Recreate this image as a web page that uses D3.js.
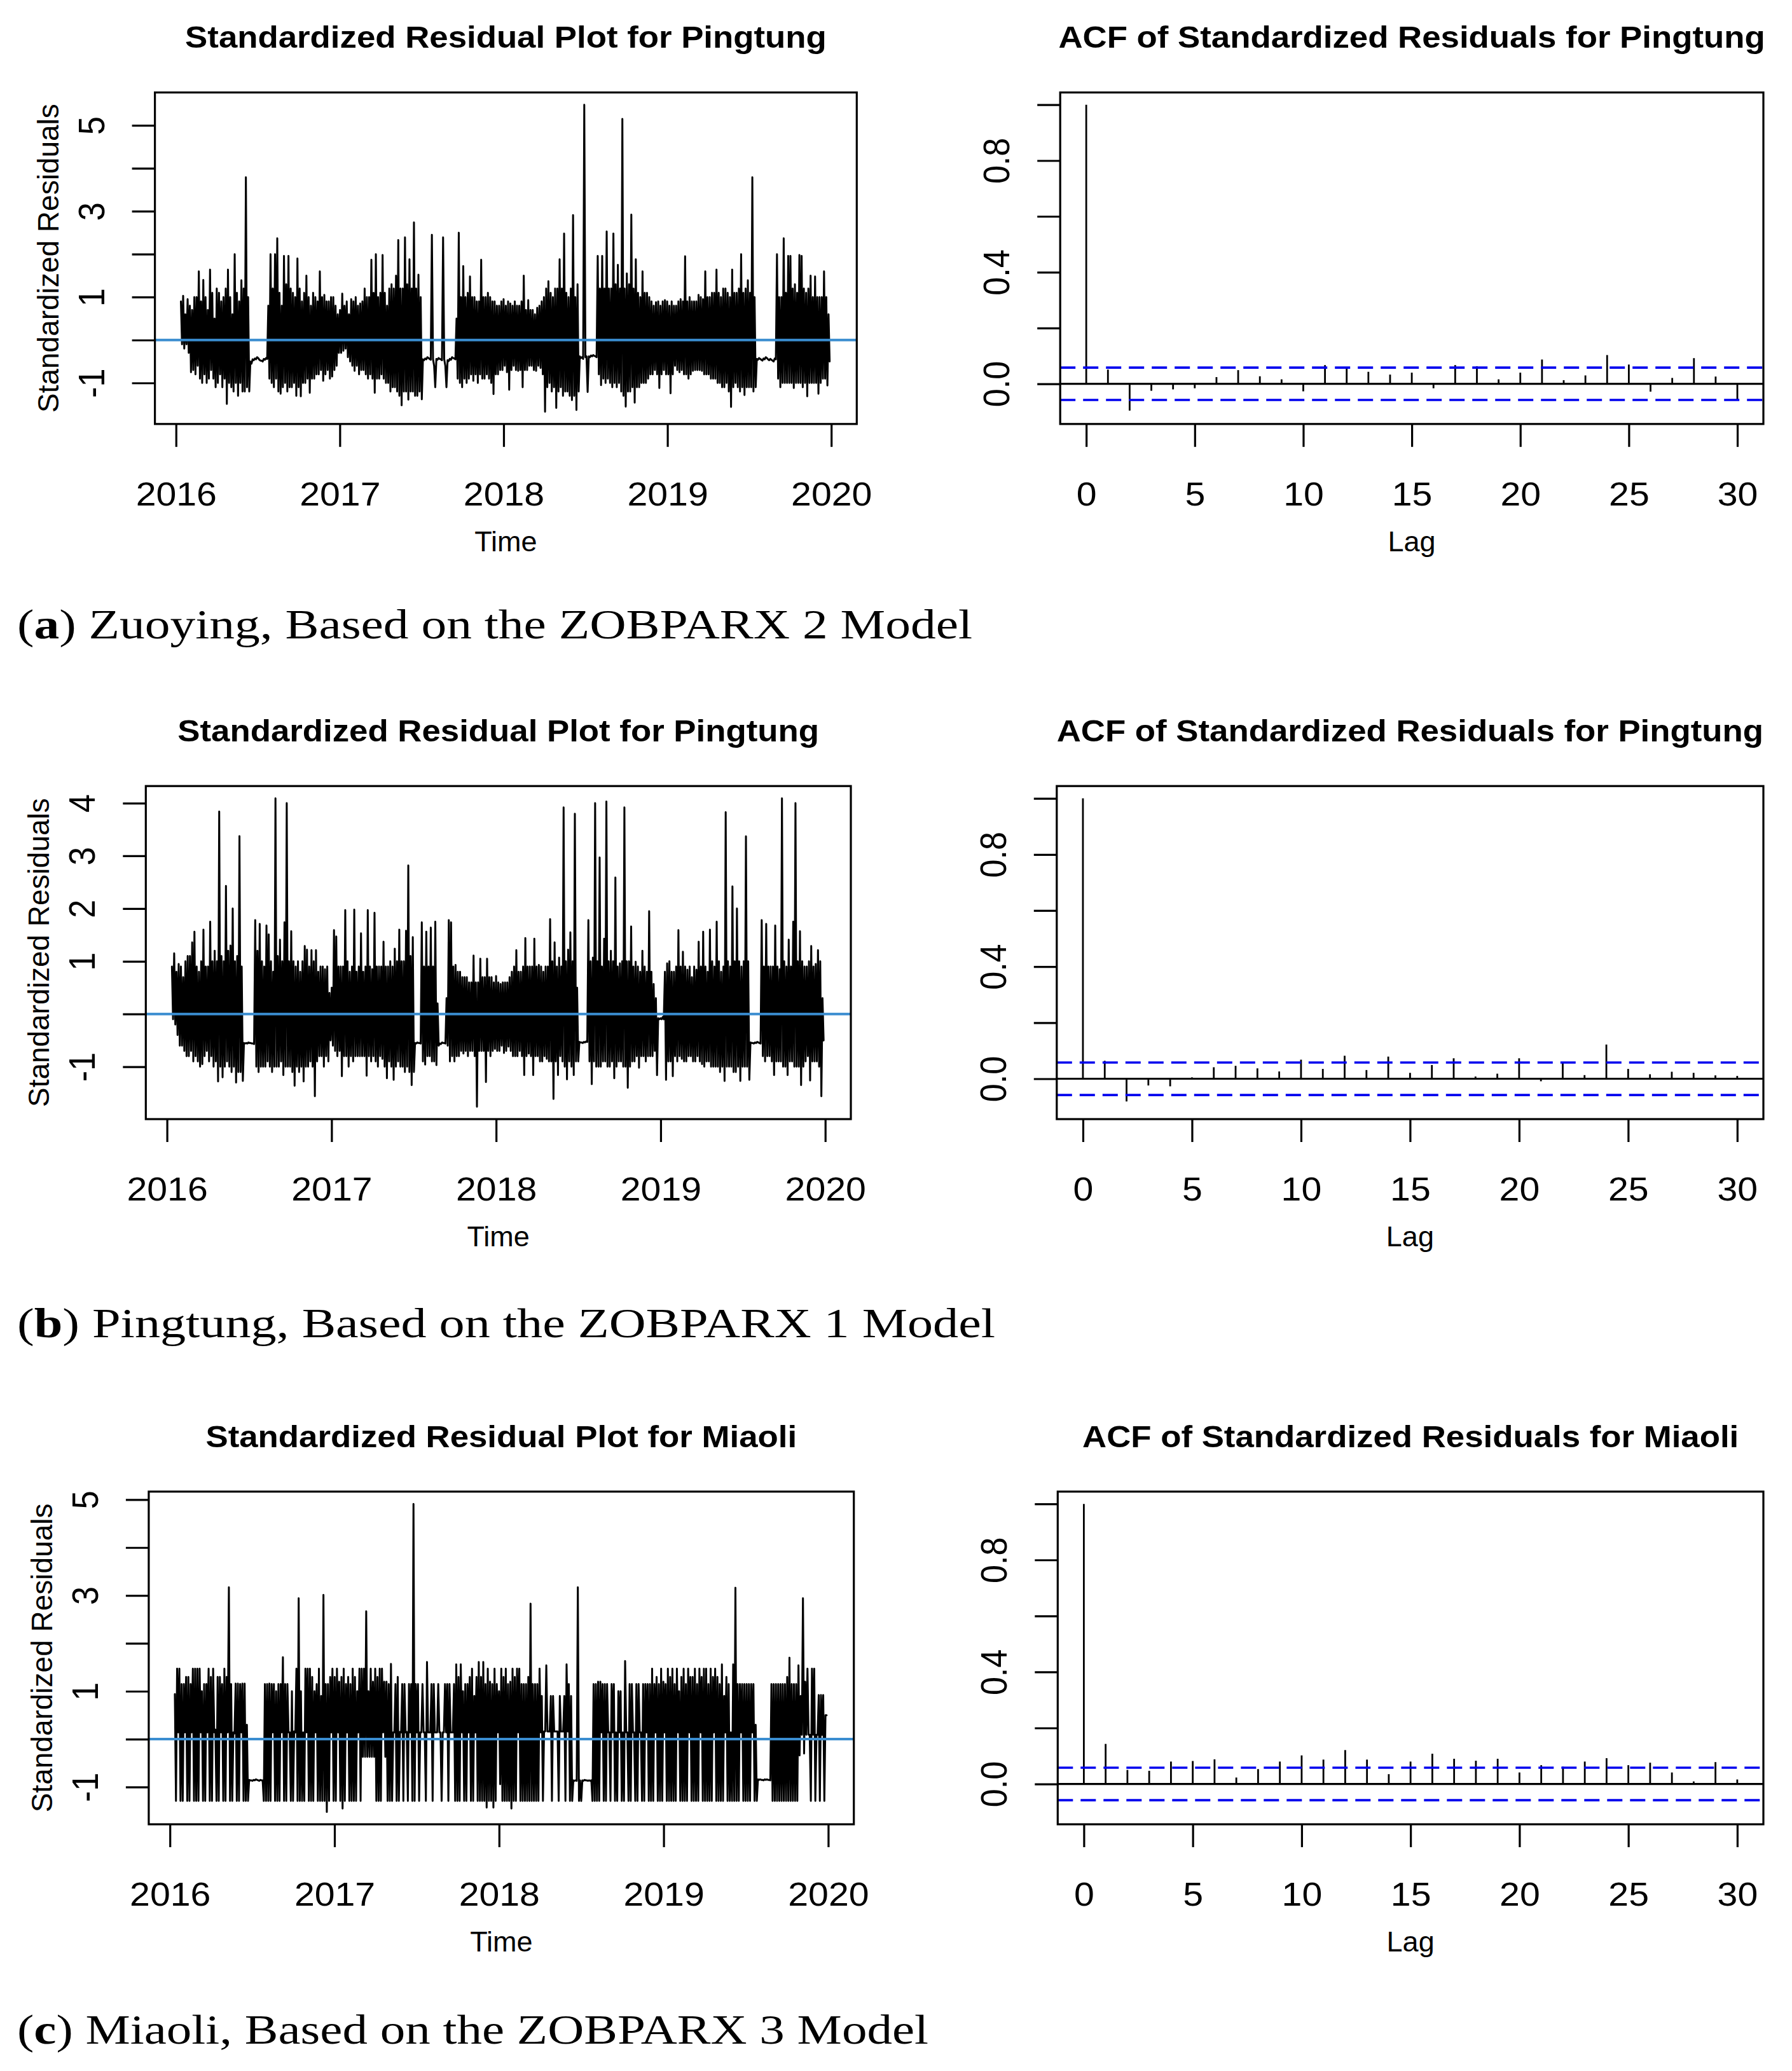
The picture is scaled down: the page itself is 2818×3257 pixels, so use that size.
<!DOCTYPE html>
<html><head><meta charset="utf-8">
<script src="https://cdn.jsdelivr.net/npm/d3@7"></script>
<style>body{margin:0;background:#fff}svg{display:block}</style>
</head><body>
<svg id="chart" width="2818" height="3257"></svg>
<script>
// ---------------- DATA ----------------
const yearTicks = [2016, 2017, 2018, 2019, 2020];
const lagTicks = [0, 5, 10, 15, 20, 25, 30];
const tsStart = 2016.03, tsEnd = 2019.997;   // time span of the residual series
// Residuals read from the plots as 5-day bins: highest and lowest value in each bin.
const zuoyingHi = [
 0.9,1.03,0.6,0.95,0.8,0.7,1.0,1.0,1.6,0.9,
 1.4,1.0,0.7,1.64,1.1,0.5,1.2,1.1,0.9,1.0,
 1.2,1.64,1.0,0.6,2.0,1.1,0.9,1.39,1.2,3.79,
 1.0,-0.5,-0.45,-0.43,-0.4,-0.46,-0.48,-0.44,-0.42,0.8,
 2.0,1.2,2.0,2.37,1.1,0.8,1.96,1.3,1.96,1.2,
 1.1,1.0,1.9,1.2,0.9,1.1,1.5,1.0,0.8,1.1,
 1.0,0.9,1.6,1.0,1.05,0.9,0.9,1.0,1.0,0.8,
 0.6,0.7,1.08,0.8,0.9,0.6,0.95,0.9,1.0,0.8,
 0.85,0.9,1.2,1.0,1.0,1.87,1.1,2.0,1.0,1.1,
 1.98,1.1,0.8,1.2,1.3,1.2,1.5,2.33,1.2,1.2,
 2.39,1.3,1.88,1.2,2.74,1.2,1.52,1.0,-0.45,-0.43,
 -0.4,-0.44,2.45,-0.6,-0.44,-0.42,-0.45,2.39,-0.6,-0.47,
 -0.44,-0.4,-0.43,0.5,2.5,1.0,1.72,1.0,1.1,1.48,
 1.0,1.0,0.9,0.9,1.87,1.0,1.0,1.1,1.0,0.9,
 0.9,0.8,0.8,0.9,0.95,0.8,0.9,0.85,0.8,0.9,
 0.8,0.8,0.9,1.5,0.7,0.93,0.7,0.7,0.6,0.75,
 0.8,0.9,1.0,1.2,1.37,1.1,1.0,1.2,1.2,1.88,
 1.2,2.48,1.1,1.0,1.2,2.91,1.0,1.3,-0.38,-0.4,
 5.48,-0.38,-0.38,-0.36,-0.35,-0.38,1.96,1.2,1.96,1.2,
 2.53,1.2,1.2,2.48,1.3,1.75,1.2,5.15,1.2,1.55,
 1.3,2.92,1.2,1.88,1.1,1.0,1.6,1.1,1.1,1.0,
 0.9,0.8,0.88,0.9,0.8,0.9,0.93,0.9,0.8,0.9,
 0.8,0.8,0.9,0.95,0.9,1.95,0.9,1.0,0.9,0.9,
 0.9,1.05,1.0,0.95,1.6,1.0,1.0,1.1,1.1,1.64,
 1.1,1.0,1.2,1.2,1.1,1.0,1.64,1.1,1.1,1.2,
 2.0,1.1,1.2,1.39,1.1,3.79,1.0,-0.44,-0.42,-0.46,
 -0.43,-0.4,-0.45,-0.44,-0.48,-0.43,2.0,1.0,1.0,2.37,
 1.1,1.96,1.96,1.2,1.3,1.1,1.98,1.96,1.2,1.1,
 1.2,1.5,1.0,1.48,1.0,1.0,1.0,1.6,1.0,0.6
];
const zuoyingLo = [
 -0.1,-0.2,-0.1,-0.3,-0.75,-0.7,-0.8,-0.6,-0.9,-1.0,
 -0.8,-1.0,-0.9,-0.7,-0.9,-1.1,-1.0,-0.8,-1.1,-0.9,
 -1.49,-1.0,-1.1,-1.2,-1.0,-1.3,-1.0,-1.2,-1.2,-1.1,
 -1.2,-0.55,-0.47,-0.45,-0.42,-0.48,-0.5,-0.46,-0.44,-0.9,
 -1.0,-1.1,-0.9,-1.2,-1.25,-1.1,-1.0,-1.2,-1.1,-1.1,
 -1.0,-1.3,-1.1,-1.31,-1.0,-1.0,-0.9,-1.23,-0.9,-0.9,
 -0.8,-0.8,-0.7,-0.95,-0.8,-0.7,-0.9,-0.85,-0.7,-0.6,
 -0.3,-0.3,-0.25,-0.2,-0.4,-0.5,-0.6,-0.72,-0.6,-0.8,
 -0.7,-0.7,-0.8,-0.9,-0.8,-0.9,-1.23,-0.9,-0.9,-0.8,
 -0.9,-1.0,-1.0,-1.2,-1.1,-1.1,-1.2,-1.3,-1.52,-1.2,
 -1.2,-1.39,-1.2,-1.2,-1.3,-1.3,-1.2,-1.38,-0.47,-0.45,
 -0.42,-0.46,-0.45,-1.1,-0.46,-0.44,-0.47,-0.45,-1.1,-0.49,
 -0.46,-0.42,-0.45,-0.9,-1.0,-1.1,-0.9,-1.0,-0.9,-0.8,
 -0.95,-0.8,-1.0,-0.8,-0.9,-0.9,-0.8,-0.9,-1.0,-1.26,
 -0.8,-0.8,-0.7,-0.7,-0.6,-0.75,-1.16,-0.7,-0.6,-0.7,
 -0.72,-0.7,-1.1,-0.7,-0.7,-0.6,-0.6,-0.7,-0.72,-0.6,
 -0.65,-0.8,-1.67,-1.1,-1.0,-1.2,-1.1,-1.58,-1.2,-1.1,
 -1.3,-1.2,-1.2,-1.3,-1.4,-1.3,-1.63,-1.2,-0.42,-0.44,
 -0.4,-1.21,-0.4,-0.38,-0.37,-0.4,-0.8,-1.05,-0.9,-1.0,
 -0.9,-1.0,-1.1,-1.0,-1.1,-1.0,-1.2,-1.3,-1.55,-1.2,
 -1.2,-1.1,-1.46,-1.1,-1.1,-1.0,-1.0,-1.0,-0.9,-0.8,
 -0.8,-0.7,-0.8,-1.12,-0.8,-0.7,-0.8,-0.8,-1.24,-0.8,
 -0.6,-0.7,-0.75,-0.7,-0.8,-0.8,-0.9,-0.8,-0.72,-0.7,
 -0.7,-0.7,-0.72,-0.8,-0.8,-0.8,-0.9,-0.9,-0.9,-1.0,
 -1.0,-1.1,-1.1,-1.0,-1.2,-1.56,-1.1,-1.0,-1.1,-1.2,
 -1.1,-1.28,-1.1,-1.1,-1.1,-1.2,-1.1,-0.46,-0.44,-0.48,
 -0.45,-0.42,-0.47,-0.46,-0.5,-0.45,-0.9,-1.1,-1.0,-1.0,
 -1.0,-1.0,-1.0,-1.12,-1.0,-1.0,-1.0,-1.1,-1.0,-1.31,
 -1.0,-1.0,-1.0,-1.0,-1.25,-1.0,-0.9,-0.9,-1.06,-0.5
];
const pingtungHi = [
 0.9,1.15,0.8,0.95,0.9,0.7,1.0,1.1,1.1,1.36,
 1.56,0.9,0.8,1.0,1.6,0.9,0.9,1.75,1.0,1.2,
 1.0,3.84,1.1,1.0,2.43,1.2,1.3,2.0,1.0,1.1,
 3.375,0.9,-0.55,-0.55,-0.54,-0.55,-0.56,1.78,1.2,1.71,
 1.0,0.9,1.68,1.51,1.0,0.8,4.09,1.1,1.41,1.0,
 1.74,4.0,1.0,1.57,1.0,0.9,1.0,0.8,1.0,1.29,
 1.22,0.9,1.21,1.0,1.21,0.8,0.9,0.9,0.85,0.9,
 0.4,0.5,1.59,1.47,0.9,0.9,0.9,1.97,1.0,0.8,
 0.9,1.98,0.8,0.9,1.53,0.8,0.9,1.97,0.9,0.85,
 1.92,0.9,0.9,0.9,1.37,0.9,0.9,1.0,0.9,1.24,
 1.0,1.6,1.0,1.0,1.58,2.82,1.1,1.46,-0.55,-0.54,
 -0.55,1.74,0.9,1.56,0.9,1.64,0.9,1.75,0.2,-0.56,
 -0.54,-0.55,0.3,1.78,1.74,0.9,0.93,0.8,0.8,0.7,
 0.7,0.7,0.6,0.6,1.11,0.6,0.6,1.05,0.7,0.7,
 1.05,0.7,0.7,0.6,0.72,0.6,0.57,0.6,0.6,0.6,
 0.7,0.8,0.9,1.21,0.8,0.8,0.9,1.44,0.9,0.9,
 0.9,1.43,0.9,0.93,0.9,0.8,0.9,0.9,1.80,1.0,
 1.36,0.9,1.07,0.9,3.92,1.0,1.22,1.55,1.0,3.80,
 0.5,-0.53,-0.54,-0.53,-0.52,1.78,1.0,1.07,4.0,1.0,
 2.97,0.9,1.43,4.03,1.0,1.2,1.0,2.59,0.9,0.96,
 1.0,3.92,1.0,1.0,1.66,0.9,0.99,0.9,0.8,1.2,
 0.9,0.8,1.95,0.8,0.57,0.3,-0.08,-0.08,-0.06,0.8,
 0.96,1.0,0.8,0.8,0.9,1.59,0.9,1.18,0.9,0.84,
 0.9,0.7,0.9,0.84,1.37,0.9,1.56,0.9,0.8,1.60,
 1.0,0.9,1.75,1.0,0.8,0.9,3.83,1.0,0.9,2.42,
 1.0,2.0,1.0,0.9,1.0,3.37,1.0,-0.54,-0.55,-0.54,
 -0.53,-0.55,1.78,0.9,1.71,0.9,0.9,0.9,1.68,0.9,
 0.85,4.09,1.0,0.9,1.41,0.9,1.75,4.0,1.0,1.57,
 1.0,0.9,0.9,1.0,1.29,0.9,0.95,1.21,1.0,0.3
];
const pingtungLo = [
 -0.1,-0.2,-0.4,-0.6,-0.6,-0.7,-0.8,-0.8,-0.7,-0.9,
 -0.8,-0.9,-1.0,-0.95,-0.8,-0.7,-0.9,-0.8,-1.0,-0.9,
 -1.28,-1.0,-1.2,-1.0,-0.9,-1.0,-1.1,-1.0,-1.3,-1.1,
 -1.1,-1.27,-0.56,-0.56,-0.55,-0.56,-0.57,-1.0,-1.1,-1.0,
 -1.0,-1.0,-0.9,-1.0,-1.1,-1.0,-1.0,-1.0,-0.9,-1.16,
 -1.0,-1.0,-1.0,-1.1,-1.36,-1.0,-1.1,-1.0,-1.28,-1.0,
 -1.0,-0.9,-1.0,-1.56,-0.9,-0.8,-0.8,-1.0,-0.8,-0.9,
 -0.5,-0.6,-0.7,-0.8,-0.7,-1.18,-0.8,-0.8,-1.0,-0.8,
 -0.9,-0.8,-0.8,-0.8,-0.8,-0.8,-1.17,-0.8,-0.9,-0.8,
 -0.9,-1.0,-0.8,-0.85,-1.0,-1.22,-0.9,-1.0,-1.25,-1.0,
 -0.9,-1.0,-1.0,-1.1,-1.0,-1.1,-1.35,-1.1,-0.56,-0.55,
 -0.56,-0.9,-0.96,-0.8,-0.8,-0.9,-0.9,-0.97,-0.6,-0.57,
 -0.55,-0.56,-0.6,-0.9,-0.8,-0.9,-0.8,-0.8,-0.7,-0.75,
 -0.7,-0.8,-0.7,-0.7,-0.8,-1.76,-0.7,-0.7,-0.7,-1.29,
 -0.7,-0.8,-0.7,-0.66,-0.7,-0.7,-0.6,-0.74,-0.7,-0.62,
 -0.7,-0.8,-0.8,-0.8,-0.7,-0.8,-1.16,-0.8,-0.75,-0.8,
 -1.16,-0.8,-0.8,-0.9,-0.9,-0.8,-0.85,-0.9,-0.9,-1.61,
 -0.9,-1.16,-0.8,-0.9,-1.0,-1.24,-0.9,-1.0,-1.16,-0.9,
 -0.9,-0.54,-0.55,-0.54,-0.53,-0.9,-1.33,-0.9,-1.0,-1.0,
 -1.0,-0.9,-0.9,-1.0,-1.0,-0.9,-1.22,-1.0,-0.9,-0.9,
 -1.0,-1.0,-1.40,-1.0,-0.9,-0.9,-0.8,-1.02,-0.8,-0.8,
 -0.9,-0.8,-0.8,-0.8,-0.7,-1.16,-0.1,-0.1,-0.1,-1.25,
 -0.9,-0.9,-1.18,-0.8,-0.9,-0.8,-0.85,-0.9,-0.9,-0.8,
 -0.8,-0.9,-0.9,-0.8,-0.9,-0.95,-1.0,-0.9,-0.9,-1.0,
 -1.0,-1.0,-1.0,-1.1,-1.0,-1.27,-1.0,-1.0,-1.0,-1.1,
 -1.1,-1.0,-1.27,-1.0,-1.0,-1.0,-1.25,-0.55,-0.56,-0.55,
 -0.54,-0.56,-0.8,-0.9,-0.8,-0.8,-0.9,-1.16,-0.9,-0.9,
 -0.9,-1.0,-1.0,-1.16,-0.9,-0.9,-1.0,-1.0,-1.0,-1.35,
 -1.0,-0.9,-0.8,-1.26,-0.9,-0.9,-0.9,-1.0,-1.56,-0.5
];
const miaoliHi = [
 0.94,1.47,1.47,1.15,1.15,1.3,1.3,1.15,1.47,1.47,
 1.47,1.47,1.0,1.15,1.15,1.47,1.3,1.47,0.2,1.3,
 1.3,1.15,1.47,1.3,3.17,1.15,0.14,1.16,1.16,1.15,
 1.16,1.16,0.3,-0.85,-0.86,-0.85,-0.84,-0.86,-0.85,-0.86,
 1.15,1.15,1.16,1.15,1.15,1.0,1.15,1.15,1.71,1.15,
 1.15,0.14,1.0,0.16,1.47,2.94,1.0,0.14,1.47,1.47,
 1.47,1.3,1.0,1.15,1.47,0.9,3.01,1.15,1.15,1.3,
 1.47,1.3,1.47,1.2,1.3,1.47,1.15,1.3,1.15,1.47,
 1.3,1.0,1.47,1.47,1.47,2.67,1.0,1.47,1.2,1.47,
 1.3,1.47,1.47,1.2,1.2,1.15,1.57,0.14,1.15,1.3,
 0.15,1.15,1.15,0.15,1.15,1.15,4.91,1.15,1.15,0.14,
 1.15,0.14,1.61,0.14,1.15,1.15,0.14,1.15,0.14,0.14,
 1.15,1.15,1.15,0.14,1.15,1.56,1.3,1.56,1.0,1.15,
 1.15,1.3,1.47,0.9,1.3,1.61,1.3,1.61,1.15,1.47,
 1.2,1.15,1.47,1.15,1.0,1.47,1.3,1.47,1.15,1.2,
 1.47,1.3,1.47,1.47,1.15,1.15,1.15,1.3,2.83,1.15,
 1.15,1.15,1.47,0.9,0.16,1.54,0.16,0.9,0.9,0.16,
 0.16,0.9,0.16,0.9,1.56,1.15,0.9,-0.86,-0.86,3.17,
 -0.86,-0.86,-0.85,-0.86,-0.86,-0.86,1.15,1.15,1.2,1.2,
 1.15,1.15,1.15,0.14,1.15,1.15,0.14,1.0,1.0,0.14,
 1.63,0.14,1.15,1.15,0.14,1.15,1.15,0.14,1.15,1.15,
 1.15,1.15,1.47,1.15,1.3,1.15,1.47,1.2,1.15,1.47,
 1.3,1.47,1.15,1.47,1.0,1.3,1.47,1.15,1.47,1.3,
 1.3,1.47,1.15,1.47,1.3,1.47,1.47,1.15,1.47,1.3,
 1.47,1.3,1.15,1.56,0.9,1.3,1.15,0.14,1.56,3.16,
 1.15,1.15,1.15,1.15,1.15,1.15,1.15,1.15,0.3,-0.84,
 -0.84,-0.85,-0.84,-0.84,-0.85,1.15,1.15,1.15,1.15,1.15,
 1.15,1.15,1.3,1.70,1.15,1.15,1.15,1.54,0.9,2.94,
 1.2,1.47,0.09,1.47,1.47,0.09,0.92,0.92,0.92,0.5
];
const miaoliLo = [
 -1.29,0.14,-1.29,-1.29,0.14,-1.29,-1.29,0.14,-1.29,-1.29,
 -1.29,0.14,-1.29,-1.29,0.14,-1.29,-1.29,0.14,-1.29,-1.29,
 0.14,-1.29,-1.29,0.14,-1.29,-1.29,0.12,-1.29,-1.29,0.14,
 -1.29,-1.29,-1.29,-0.86,-0.87,-0.86,-0.85,-0.87,-0.86,-1.29,
 -1.29,-1.29,-1.29,0.14,-1.29,-1.29,-1.29,0.14,-1.29,-1.29,
 0.14,-1.29,-1.29,0.14,-1.29,-1.29,-1.29,-1.29,0.14,-1.29,
 -1.29,-1.29,0.14,-1.29,-1.29,-1.29,-1.29,-1.52,-1.29,0.14,
 -1.29,-1.29,0.14,-1.29,-1.45,-1.29,0.14,-1.29,-1.29,-1.29,
 -1.29,0.14,-1.29,-0.37,-0.37,-0.37,-0.37,-0.37,-0.37,-1.29,
 -1.29,-1.29,0.14,-0.37,-1.29,-1.29,-1.29,0.14,-1.29,-1.29,
 0.14,-1.29,0.14,-1.29,0.14,-1.29,-1.29,0.14,-1.29,0.14,
 0.14,-1.29,0.14,0.14,-1.29,0.14,0.14,0.14,-1.29,0.14,
 0.14,-1.29,0.14,0.14,-1.29,-1.29,-1.29,0.14,-1.29,-1.29,
 0.14,-1.29,-1.29,0.14,-1.29,-1.29,-1.29,-1.29,-1.43,-1.29,
 -1.29,-1.43,-1.29,0.14,-0.94,-1.29,-1.29,-1.29,-1.29,-1.45,
 -1.29,-1.29,0.14,-1.29,-1.29,-1.29,-1.29,-1.29,-1.29,-1.29,
 -1.29,-1.29,0.14,-1.29,0.16,0.16,0.16,-1.29,0.16,0.16,
 -1.29,0.16,0.16,-1.29,0.16,-1.29,-1.29,-0.87,-0.87,-1.29,
 -1.29,-0.87,-0.86,-0.87,-0.87,-1.29,-1.29,-1.29,-1.29,0.14,
 -1.29,-1.29,0.14,-1.29,0.14,-1.29,-1.29,0.14,-1.29,-1.29,
 0.14,-1.29,-1.29,0.14,-1.29,-1.29,0.14,-1.29,-1.29,0.14,
 -1.29,-1.29,-1.29,0.14,-1.29,-1.29,-1.29,0.14,-1.29,-1.29,
 -1.29,-1.29,-1.29,0.14,-1.29,-1.29,-1.29,-1.29,0.14,-1.29,
 -1.29,-1.29,-1.29,0.14,-1.29,-1.29,-1.29,-1.29,-1.29,0.14,
 -1.29,-1.29,-1.29,-1.29,0.14,-1.29,-1.29,-1.29,-1.29,-1.29,
 -1.29,0.14,-1.29,-1.29,-1.29,-1.29,0.14,-1.29,-1.29,-0.85,
 -0.85,-0.86,-0.85,-0.85,-0.86,-1.29,-1.29,-1.29,-1.29,-1.29,
 -1.29,-1.29,-1.29,-1.29,-1.29,-1.29,-1.29,-0.34,0.09,-0.3,
 0.09,0.09,-1.29,0.09,-1.29,0.09,-1.29,0.09,-1.29,0.5
];

const acfZuoying = [1.0,0.051,-0.096,-0.025,-0.020,-0.016,0.024,0.049,0.027,0.016,
 -0.027,0.067,0.059,0.043,0.033,0.040,-0.016,0.067,0.063,0.016,
 0.040,0.087,0.013,0.030,0.103,0.069,-0.028,0.021,0.092,0.026,-0.059];
const acfPingtung = [1.0,0.064,-0.081,-0.024,-0.027,0.005,0.041,0.046,0.037,0.026,
 0.068,0.035,0.082,0.031,0.079,0.021,0.049,0.073,0.008,0.018,
 0.073,-0.009,0.057,0.013,0.122,0.035,0.016,0.025,0.021,0.012,0.010];
const acfMiaoli = [1.0,0.143,0.050,0.047,0.080,0.082,0.088,0.023,0.053,0.080,
 0.102,0.087,0.121,0.087,0.035,0.080,0.108,0.090,0.083,0.090,
 0.041,0.067,0.062,0.080,0.092,0.067,0.076,0.041,0.009,0.078,0.016];
const acfCI = [0.058, 0.058, 0.058];
const acfYLim = [-0.1, 1.0];
const acfYTicks = [0, 0.2, 0.4, 0.6, 0.8, 1.0];
const acfYLabels = [0, 0.4, 0.8];

const tsYTicks = [[-1,0,1,2,3,4,5], [-1,0,1,2,3,4], [-1,0,1,2,3,4,5]];
const tsYLabels = [[-1,1,3,5], [-1,1,2,3,4], [-1,1,3,5]];
const tsTitles = ["Standardized Residual Plot for Pingtung", "Standardized Residual Plot for Pingtung", "Standardized Residual Plot for Miaoli"];
const acfTitles = ["ACF of Standardized Residuals for Pingtung", "ACF of Standardized Residuals for Pingtung", "ACF of Standardized Residuals for Miaoli"];
const captionLetters = ["a", "b", "c"];
const captionTexts = [" Zuoying, Based on the ZOBPARX 2 Model", " Pingtung, Based on the ZOBPARX 1 Model", " Miaoli, Based on the ZOBPARX 3 Model"];

// ---------------- LAYOUT ----------------
const layout = [
  {ts: {l: 243.6, r: 1347.3, t: 145.4, b: 666.8}, acf: {l: 1667.2, r: 2773, t: 145.4, b: 666.8}, cap: {y: 1004, w: 1502}},
  {ts: {l: 229.3, r: 1338.0, t: 1236.2, b: 1760.0}, acf: {l: 1661.8, r: 2773, t: 1236.2, b: 1760.0}, cap: {y: 2103, w: 1538}},
  {ts: {l: 233.9, r: 1342.7, t: 2345.8, b: 2869.0}, acf: {l: 1663.3, r: 2773, t: 2345.8, b: 2869.0}, cap: {y: 3214, w: 1433}}
];
const FONT = "'Liberation Sans', Arial, Helvetica, sans-serif";
const SERIF = "'Liberation Serif', 'Times New Roman', serif";
const SX = 1.1;
const LW = 3.2;
const TICK = 36;
const TICKFS = 52, TITLEFS = 48, LABFS = 45;
const XLAB = 128, XTITLE = 200, YLAB = 80, YTITLE = 152, TITLEOFF = 70;

const svg = d3.select("#chart");
svg.append("rect").attr("width", 2818).attr("height", 3257).attr("fill", "#fff");

function hText(x, y, str, size, weight) {
  svg.append("text").attr("transform", `translate(${x},${y}) scale(${SX},1)`)
    .attr("text-anchor", "middle").attr("font-family", FONT).attr("font-size", size)
    .attr("font-weight", weight || "normal").attr("fill", "#000").text(str);
}
function frame(box) {
  svg.append("rect").attr("x", box.l).attr("y", box.t).attr("width", box.r - box.l).attr("height", box.b - box.t)
    .attr("fill", "none").attr("stroke", "#000").attr("stroke-width", LW);
}
function xAxis(x, box, ticks, fmt) {
  const g = svg.append("g").attr("transform", `translate(0,${box.b})`)
    .call(d3.axisBottom(x).tickValues(ticks).tickSize(TICK).tickFormat(fmt));
  g.select(".domain").remove();
  g.selectAll(".tick line").attr("stroke", "#000").attr("stroke-width", LW);
  g.selectAll(".tick text").attr("y", 0).attr("dy", 0).attr("fill", "#000")
    .attr("font-family", FONT).attr("font-size", TICKFS)
    .attr("transform", `translate(0,${XLAB}) scale(${SX},1)`);
}
function yAxis(y, box, ticks, fmt) {
  const g = svg.append("g").attr("transform", `translate(${box.l},0)`)
    .call(d3.axisLeft(y).tickValues(ticks).tickSize(TICK).tickFormat(fmt));
  g.select(".domain").remove();
  g.selectAll(".tick line").attr("stroke", "#000").attr("stroke-width", LW);
  g.selectAll(".tick text").attr("x", 0).attr("dy", 0).attr("fill", "#000")
    .attr("text-anchor", "middle").attr("font-family", FONT).attr("font-size", TICKFS)
    .attr("transform", `translate(${-YLAB},0) scale(${SX},1) rotate(-90)`);
}

function drawTS(box, hiArr, loArr, yTicks, yLabels, title) {
  const n = hiArr.length;
  const dt = (tsEnd - tsStart) / n;
  const pts = [];
  hiArr.forEach((h, i) => {
    pts.push([tsStart + i * dt, h]);
    pts.push([tsStart + (i + 0.5) * dt, loArr[i]]);
  });
  const tr = tsEnd - tsStart;
  const x = d3.scaleLinear().domain([tsStart - 0.04 * tr, tsEnd + 0.04 * tr]).range([box.l, box.r]);
  const lo = d3.min(loArr.concat(hiArr)), hi = d3.max(hiArr.concat(loArr));
  const yr = hi - lo;
  const y = d3.scaleLinear().domain([lo - 0.04 * yr, hi + 0.04 * yr]).range([box.b, box.t]);
  svg.append("path").datum(pts)
    .attr("d", d3.line().x(d => x(d[0])).y(d => y(d[1])))
    .attr("fill", "none").attr("stroke", "#000").attr("stroke-width", 3)
    .attr("stroke-linejoin", "round").attr("stroke-linecap", "round");
  svg.append("line").attr("x1", box.l).attr("x2", box.r).attr("y1", y(0)).attr("y2", y(0))
    .attr("stroke", "#3a8dd0").attr("stroke-width", 4);
  frame(box);
  xAxis(x, box, yearTicks, d => String(d));
  yAxis(y, box, yTicks, d => yLabels.includes(d) ? String(d) : "");
  const cx = (box.l + box.r) / 2;
  hText(cx, box.t - TITLEOFF, title, TITLEFS, "bold");
  svg.append("text").attr("x", cx).attr("y", box.b + XTITLE).attr("text-anchor", "middle")
    .attr("font-family", FONT).attr("font-size", LABFS).text("Time");
  svg.append("text").attr("transform", `translate(${box.l - YTITLE},${(box.t + box.b) / 2}) rotate(-90)`)
    .attr("text-anchor", "middle").attr("font-family", FONT).attr("font-size", LABFS + 1)
    .text("Standardized Residuals");
}

function drawACF(box, acf, ci, title) {
  const lags = acf.map((d, i) => i);
  const maxLag = d3.max(lags);
  const x = d3.scaleLinear().domain([-0.04 * maxLag, maxLag * 1.04]).range([box.l, box.r]);
  const yr = acfYLim[1] - acfYLim[0];
  const y = d3.scaleLinear().domain([acfYLim[0] - 0.04 * yr, acfYLim[1] + 0.04 * yr]).range([box.b, box.t]);
  svg.append("g").selectAll("line").data(acf).join("line")
    .attr("x1", (d, i) => x(lags[i])).attr("x2", (d, i) => x(lags[i]))
    .attr("y1", y(0)).attr("y2", d => y(d))
    .attr("stroke", "#000").attr("stroke-width", 2.8);
  svg.append("line").attr("x1", box.l).attr("x2", box.r).attr("y1", y(0)).attr("y2", y(0))
    .attr("stroke", "#000").attr("stroke-width", 3.2);
  [ci, -ci].forEach(c => {
    svg.append("line").attr("x1", box.l).attr("x2", box.r).attr("y1", y(c)).attr("y2", y(c))
      .attr("stroke", "#0000ee").attr("stroke-width", 3.6).attr("stroke-dasharray", "24,12");
  });
  frame(box);
  xAxis(x, box, lagTicks, d => String(d));
  yAxis(y, box, acfYTicks, d => acfYLabels.some(v => Math.abs(v - d) < 1e-9) ? d.toFixed(1) : "");
  const cx = (box.l + box.r) / 2;
  hText(cx, box.t - TITLEOFF, title, TITLEFS, "bold");
  svg.append("text").attr("x", cx).attr("y", box.b + XTITLE).attr("text-anchor", "middle")
    .attr("font-family", FONT).attr("font-size", LABFS).text("Lag");
}

const hiSeries = [zuoyingHi, pingtungHi, miaoliHi];
const loSeries = [zuoyingLo, pingtungLo, miaoliLo];
const acfSeries = [acfZuoying, acfPingtung, acfMiaoli];

layout.forEach((row, k) => {
  drawTS(row.ts, hiSeries[k], loSeries[k], tsYTicks[k], tsYLabels[k], tsTitles[k]);
  drawACF(row.acf, acfSeries[k], acfCI[k], acfTitles[k]);
  const t = svg.append("text").attr("x", 27).attr("y", row.cap.y)
    .attr("font-family", SERIF).attr("font-size", 66).attr("fill", "#000")
    .attr("textLength", row.cap.w).attr("lengthAdjust", "spacingAndGlyphs");
  t.append("tspan").text("(");
  t.append("tspan").attr("font-weight", "bold").text(captionLetters[k]);
  t.append("tspan").text(")" + captionTexts[k]);
});
</script>
</body></html>
